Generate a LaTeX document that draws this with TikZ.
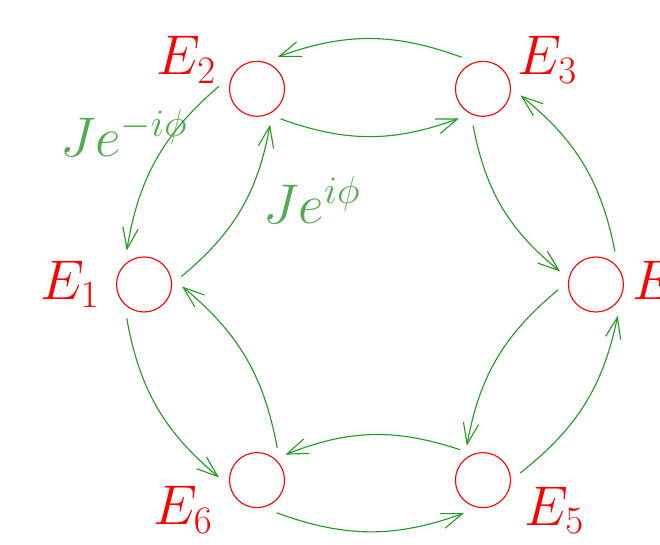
\documentclass[tikz,border=0pt]{standalone}
\usepackage{amsmath,amssymb}
\usepackage{tikz}
\usetikzlibrary{arrows.meta}
\definecolor{hopgreen}{RGB}{34,155,34}
\definecolor{softgreen}{RGB}{82,170,82}
\DeclareMathSizes{24.88}{24.88}{16}{12}

\begin{document}
\begin{tikzpicture}[
    levelNode/.style={circle, draw=red, line width=0.5pt, minimum size=0.86cm, inner sep=0pt, outer sep=0.165cm},
    levelLabel/.style={text=red, font=\Huge, inner sep=0pt},
    hopLabel/.style={text=softgreen, font=\Huge, inner sep=0pt},
    hopArrow/.style={-{Straight Barb[length=0.33cm, width=0.24cm]}, line width=0.5pt, draw=hopgreen, bend right=20}
]
    \useasboundingbox (-5.781,-4.055) rectangle (4.531,4.445);

    \node[levelNode] (e1) at (180:3.53) {};
    \node[levelNode] (e2) at (120:3.53) {};
    \node[levelNode] (e3) at (60:3.53) {};
    \node[levelNode] (e4) at (0:3.53) {};
    \node[levelNode] (e5) at (-60:3.53) {};
    \node[levelNode] (e6) at (-120:3.53) {};

    \node[levelLabel] (l1) at (-4.69, 0) {$E_1$};
    \node[levelLabel] (l2) at (-2.867, 3.508) {$E_2$};
    \node[levelLabel] (l3) at (2.773, 3.508) {$E_3$};
    \node[levelLabel] (l4) at (4.56, 0) {$E_4$};
    \node[levelLabel] (l5) at (2.883, -3.531) {$E_5$};
    \node[levelLabel] (l6) at (-2.922, -3.523) {$E_6$};

    \node[hopLabel] (jminus) at (-3.844, 2.367) {$Je^{-i\phi}$};
    \node[hopLabel] (jplus) at (-0.906, 1.32) {$Je^{i\phi}$};

    \draw[hopArrow] (e3.124) to (e2.57);
    \draw[hopArrow] (e2.-52) to (e3.231);
    \draw[hopArrow] (e2.176) to (e1.117);
    \draw[hopArrow] (e1.12) to (e2.-70);
    \draw[hopArrow] (e4.60) to (e3.-10);
    \draw[hopArrow] (e3.-105) to (e4.160);
    \draw[hopArrow] (e5.11) to (e4.-55);
    \draw[hopArrow] (e4.-172) to (e5.115);
    \draw[hopArrow] (e6.-59) to (e5.-120);
    \draw[hopArrow] (e5.127) to (e6.42);
    \draw[hopArrow] (e1.-117) to (e6.176);
    \draw[hopArrow] (e6.58) to (e1.-3);
\end{tikzpicture}
\end{document}
